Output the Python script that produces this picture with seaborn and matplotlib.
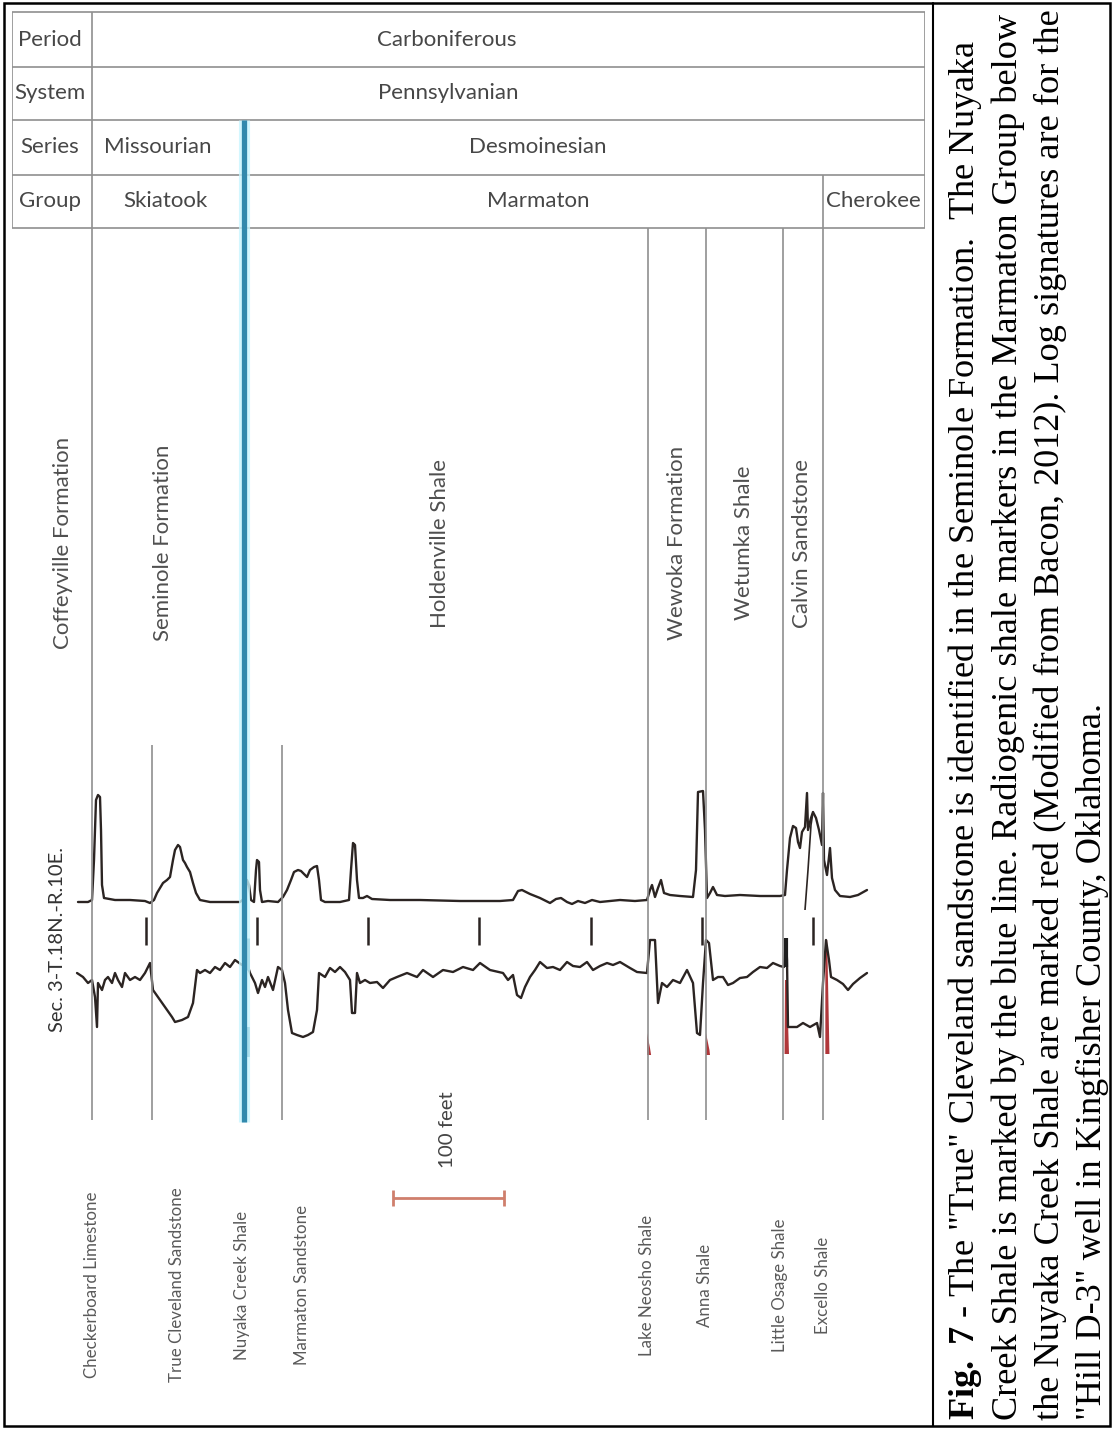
import matplotlib
matplotlib.use("Agg")
import matplotlib.pyplot as plt
import seaborn as sns
from matplotlib.patches import Rectangle
from matplotlib.lines import Line2D

sns.set_style("white")
plt.rcParams["font.family"] = ["Lato", "DejaVu Sans"]
plt.rcParams["mathtext.fontset"] = "custom"
plt.rcParams["mathtext.rm"] = "Liberation Serif"
plt.rcParams["mathtext.bf"] = "Liberation Serif:bold"

# ---- data (depth in feet along the section, log values in arbitrary units)
gr_depth = [38.7, 47.7, 51.3, 53.1, 54.9, 56.7, 58.5, 59.4, 60.3, 62.1, 72, 85.5, 99, 103.5,
            107.1, 109.8, 112.5, 115.2, 118.8, 121.5, 124.2, 126, 128.7, 130.5, 133.2, 135,
            136.8, 139.5, 142.2, 144.9, 148.5, 157.5, 171, 184.5, 189, 190.8, 192.6, 194.4,
            197.1, 198.9, 199.8, 201.6, 202.5, 204.3, 209.7, 218.7, 223.2, 226.8, 230.4, 233.1,
            236.7, 239.4, 242.1, 244.8, 247.5, 251.1, 253.8, 255.6, 257.4, 261, 274.5, 282.6,
            284.4, 286.2, 288, 289.8, 291.6, 295.2, 298.8, 303.3, 319.5, 346.5, 382.5, 418.5,
            430.2, 434.7, 438.3, 445.5, 454.5, 463.5, 468.9, 473.4, 478.8, 483.3, 488.7, 495,
            501.3, 508.5, 517.5, 526.5, 540, 550.8, 553.5, 555.3, 558, 560.7, 563.4, 566.1,
            571.5, 580.5, 592.2, 594.9, 596.7, 601.2, 603, 604.8, 607.5, 610.2, 613.8, 621,
            634.5, 652.5, 670.5, 675, 676.8, 679.5, 682.2, 684.9, 686.7, 688.5, 690.3, 693,
            694.8, 695.7, 698.4, 700.2, 702.9, 705.6, 708.3, 709.2, 710.1, 712.8, 715.5, 717.3,
            720, 724.5, 733.5, 740.7, 748.8]
gr_value = [8, 8, 10, 50, 110, 115, 113, 80, 25, 12, 10, 10, 9, 7,
            10, 17, 22, 27, 30, 33, 50, 60, 65, 63, 50, 47,
            43, 38, 27, 17, 10, 8, 8, 8, 12, 30, 25, 10,
            8, 40, 50, 48, 20, 8, 9, 8, 13, 20, 30, 38,
            40, 39, 36, 33, 40, 43, 44, 30, 10, 8, 8, 10,
            40, 67, 65, 30, 12, 12, 14, 11, 10, 10, 9, 9,
            10, 19, 20, 16, 12, 7, 11, 12, 8, 6, 9, 7,
            10, 8, 9, 10, 9, 10, 20, 25, 13, 22, 30, 17,
            15, 14, 13, 40, 118, 119, 80, 12, 17, 23, 15, 14,
            15, 14, 14, 15, 40, 72, 84, 82, 68, 62, 78, 83,
            117, 80, 92, 98, 92, 80, 65, 117, 50, 35, 62, 32,
            20, 14, 13, 15, 20]
gr2_depth = [693, 695.7, 698.4, 700.2]
gr2_value = [0, 40, 85, 98]

res_depth = [37.8, 43.2, 47.7, 51.3, 54, 55.8, 56.7, 60.3, 63, 65.7, 69.3, 72, 74.7, 78.3, 81,
             85.5, 90, 94.5, 99, 103.5, 106.2, 112.5, 118.8, 123.3, 126, 132.3, 137.7, 142.2,
             145.8, 148.5, 153, 157.5, 162, 166.5, 171, 175.5, 180, 186.3, 189.9, 193.5, 198,
             200.7, 204.3, 207, 209.7, 214.2, 218.7, 222.3, 225, 227.7, 231.3, 235.8, 241.2,
             245.7, 250.2, 253.8, 255.6, 261, 265.5, 270, 274.5, 279, 283.5, 285.3, 288, 289.8,
             292.5, 297, 301.5, 307.8, 313.2, 319.5, 325.8, 334.8, 343.8, 349.2, 358.2, 367.2,
             376.2, 385.2, 394.2, 400.5, 409.5, 421.2, 425.7, 430.2, 433.8, 437.4, 441, 445.5,
             450, 454.5, 460.8, 466.2, 472.5, 478.8, 484.2, 490.5, 496.8, 502.2, 508.5, 514.8,
             520.2, 526.5, 535.5, 541.8, 550.8, 553.5, 558, 560.7, 564.3, 568.8, 574.2, 580.5,
             586.8, 592.2, 595.8, 598.5, 601.2, 603.9, 606.6, 610.2, 614.7, 619.2, 623.7, 628.2,
             634.5, 640.8, 646.2, 652.5, 658.8, 664.2, 670.5, 674.1, 675.9, 676.8, 677.7, 685.8,
             691.2, 697.5, 703.8, 706.5, 709.2, 711.9, 714.6, 716.4, 721.8, 727.2, 731.7, 736.2,
             742.5, 748.8]
res_value = [87, 83, 77, 80, 63, 33, 77, 70, 80, 83, 77, 87, 80, 73, 87,
             80, 83, 80, 87, 97, 70, 60, 50, 43, 38, 40, 43, 57,
             90, 87, 90, 87, 93, 90, 97, 93, 100, 95, 100, 87, 77,
             67, 80, 73, 83, 70, 93, 90, 77, 50, 27, 25, 23,
             25, 28, 50, 87, 83, 92, 88, 93, 88, 80, 47, 47, 87,
             77, 80, 77, 78, 72, 80, 83, 87, 83, 90, 83, 90,
             88, 93, 90, 97, 90, 87, 80, 85, 65, 62, 73, 83,
             90, 98, 92, 93, 90, 98, 94, 93, 98, 90, 94, 97,
             95, 98, 92, 88, 87, 120, 120, 57, 77, 73, 80, 77,
             90, 77, 27, 25, 77, 120, 117, 80, 83, 83, 75, 77,
             82, 83, 88, 93, 92, 97, 94, 93, 120, 100, 33, 33,
             37, 33, 37, 23, 77, 120, 100, 83, 80, 76, 70, 76,
             82, 87]

depth_ticks = [100, 200, 300, 400, 500, 600, 700]

# radiogenic shale markers (red)
red_marks = {
    "Lake Neosho": ([550.8, 553.5, 554.5, 550.8], [27, 12, 5, 5]),
    "Anna": ([603.9, 607.0, 607.5, 603.9], [27, 10, 5, 5]),
    "Little Osage": ([675.0, 676.6, 678.6, 674.6], [80, 80, 6, 6]),
    "Excello": ([711.3, 713.0, 715.0, 711.3], [120, 120, 6, 6]),
}

header_rows = ["Period", "System", "Series", "Group"]
units = ["Carboniferous", "Pennsylvanian", "Missourian", "Desmoinesian", "Skiatook", "Marmaton", "Cherokee"]
unit_depth = [370.8, 371.7, 110.7, 452.7, 117, 452.7, 754.2]
unit_row = [0, 1, 2, 2, 3, 3, 3]

formations = ["Coffeyville Formation", "Seminole Formation", "Holdenville Shale",
              "Wewoka Formation", "Wetumka Shale", "Calvin Sandstone"]
formation_depth = [25.2, 115.2, 364.5, 577.8, 638.1, 690.3]

markers = ["Checkerboard Limestone", "True Cleveland Sandstone", "Nuyaka Creek Shale",
           "Marmaton Sandstone", "Lake Neosho Shale", "Anna Shale", "Little Osage Shale", "Excello Shale"]
marker_top = [51.3, 105.3, 188.1, 222.3, 551.7, 603.9, 673.2, 709.2]
marker_label_depth = [51.3, 127.8, 186.3, 240.3, 550.8, 603.0, 670.5, 709.2]

caption = [
    "$\\mathbf{Fig.}$ $\\mathbf{7}$ - The \"True\" Cleveland sandstone is identified in the Seminole Formation.  The Nuyaka",
    "Creek Shale is marked by the blue line. Radiogenic shale markers in the Marmaton Group below",
    "the Nuyaka Creek Shale are marked red (Modified from Bacon, 2012). Log signatures are for the",
    "\"Hill D-3\" well in Kingfisher County, Oklahoma.",
]

# ---- layout
W, H = 1113, 1430
fig = plt.figure(figsize=(W / 100, H / 100), dpi=100)
fig.patch.set_facecolor("white")


def box(x0, y0, x1, y1):
    return [x0 / W, 1 - y1 / H, (x1 - x0) / W, (y1 - y0) / H]


XL = (-20.7, 801)
ax_gr = fig.add_axes(box(12, 780, 925, 910))
ax_res = fig.add_axes(box(12, 930, 925, 1060))
ax = fig.add_axes(box(12, 0, 925, 1430))
for a in (ax_gr, ax_res, ax):
    a.set_xlim(*XL)
    a.axis("off")
    a.patch.set_alpha(0)
ax_gr.set_ylim(0, 130)
ax_res.set_ylim(0, 130)
ax.set_ylim(1430, 0)
ax.set_zorder(3)

curve = "#2b2422"
sns.lineplot(x=gr_depth, y=gr_value, ax=ax_gr, color=curve, lw=1.7, sort=False, estimator=None)
sns.lineplot(x=gr2_depth, y=gr2_value, ax=ax_gr, color=curve, lw=1.2, sort=False, estimator=None)
sns.lineplot(x=res_depth, y=res_value, ax=ax_res, color=curve, lw=1.7, sort=False, estimator=None)
for xs, ys in red_marks.values():
    ax_res.fill(xs, ys, color="#b0373a", lw=0)
ax_res.vlines(676.0, 93, 122, color="#1e1e1e", lw=3)
ax_res.vlines(190.0, 90, 122, color="#2f86ab", lw=5)
ax_res.vlines(190.5, 3, 33, color="#2f86ab", lw=4)

# table
grey = "#8f8f8f"
row_y = [12, 67, 120, 175, 228]
ax.hlines(row_y, XL[0], XL[1], color=grey, lw=1.2)
ax.vlines([XL[0], XL[1]], 12, 228, color=grey, lw=1.2)
ax.vlines(marker_top[0], 12, 1120, color=grey, lw=1.2)
ax.vlines(marker_top[7], 175, 1120, color=grey, lw=1.2)
ax.vlines([marker_top[4], marker_top[5], marker_top[6]], 228, 1120, color=grey, lw=1.2)
ax.vlines([marker_top[1], marker_top[3]], 745, 1120, color=grey, lw=1.2)
ax.vlines(marker_top[2], 120, 1122, color="#c8f6ff", lw=8, alpha=0.8)
ax.vlines(marker_top[2], 120, 1122, color="#3289ad", lw=3.8)

text_grey = "#474747"
row_mid = [40, 93, 147, 201]
for name, y in zip(header_rows, row_mid):
    ax.text(13.5, y, name, ha="center", va="center", fontsize=16, color=text_grey)
for name, d, r in zip(units, unit_depth, unit_row):
    ax.text(d, row_mid[r], name, ha="center", va="center", fontsize=16, color=text_grey)

for name, d in zip(formations, formation_depth):
    ax.text(d, 543, name, rotation=90, ha="center", va="center", fontsize=16, color="#4f4f4f")
for name, d in zip(markers, marker_label_depth):
    ax.text(d, 1285, name, rotation=90, ha="center", va="center", fontsize=12.2, color="#5a5a5a")

ax.text(20.7, 940, "Sec. 3-T.18N.-R.10E.", rotation=90, ha="center", va="center",
        fontsize=14.5, color="#333333")
ax.vlines(depth_ticks, 917, 945, color=curve, lw=1.8)

# scale bar
bar = [322, 422]
bar_col = "#cf7f6c"
ax.hlines(1198, bar[0], bar[1], color=bar_col, lw=2)
ax.vlines(bar, 1190, 1206, color=bar_col, lw=2)
ax.text(sum(bar) / 2 - 0.5, 1130, "100 feet", rotation=90, ha="center", va="center",
        fontsize=14.7, color="#444444")

# frame and caption panel
fig.add_artist(Rectangle((4 / W, 1 - 1426 / H), 1106 / W, 1423 / H, transform=fig.transFigure,
                         fill=False, ec="black", lw=1.8))
fig.add_artist(Line2D([933 / W, 933 / W], [1 - 1426 / H, 1 - 3 / H], transform=fig.transFigure,
                      color="black", lw=1.5))

cap_x = [965, 1008, 1050, 1092]
cap = [fig.text(x / W, 10 / H, line, rotation=90, ha="center", va="bottom", fontsize=24,
                family="Liberation Serif", color="black") for x, line in zip(cap_x, caption)]
fig.canvas.draw()
h = cap[0].get_window_extent().height
for t in cap:
    t.set_fontsize(24 * 1380 / h)

fig.savefig("out.png", dpi=100)
